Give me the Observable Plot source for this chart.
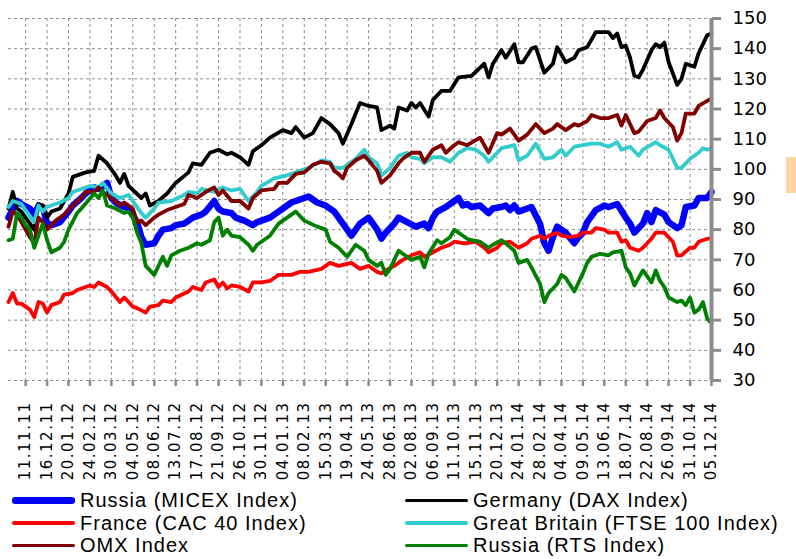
<!DOCTYPE html>
<html><head><meta charset="utf-8">
<script src="https://cdn.jsdelivr.net/npm/d3@7"></script>
<script src="https://cdn.jsdelivr.net/npm/@observablehq/plot@0.6"></script>
<style>
body{margin:0;background:#fff;}
#wrap{position:relative;width:796px;height:559px;overflow:hidden;background:#fff;}
#legend{position:absolute;left:0;top:490px;width:796px;height:69px;font-family:"Liberation Sans",Arial,sans-serif;font-size:20px;letter-spacing:1px;color:#000;}
.item{position:absolute;display:flex;align-items:center;height:21px;line-height:21px;white-space:nowrap;}
.sw{width:63px;margin-right:5px;border-radius:3px;}
#tab{position:absolute;left:786px;top:157px;width:10px;height:36px;background:#FCD5A5;}
g[aria-label="x-axis tick"]{stroke:#8c8c8c;stroke-width:2.5px;}
g[aria-label="y-axis tick"]{stroke:#8c8c8c;stroke-width:3px;}
g[aria-label="x-axis tick label"] text{letter-spacing:1.5px;}
</style></head><body>
<div id="wrap"><div id="chart"></div><div id="legend"></div><div id="tab"></div></div>
<script>
// ---- data ----
const firstWeek = "14.10.11";           // first weekly observation (Friday)
const xTickLabels = ["11.11.11","16.12.11","20.01.12","24.02.12","30.03.12","04.05.12","08.06.12","13.07.12","17.08.12","21.09.12","26.10.12","30.11.12","04.01.13","08.02.13","15.03.13","19.04.13","24.05.13","28.06.13","02.08.13","06.09.13","11.10.13","15.11.13","20.12.13","24.01.14","28.02.14","04.04.14","09.05.14","13.06.14","18.07.14","22.08.14","26.09.14","31.10.14","05.12.14"];
const yTicks = [30,40,50,60,70,80,90,100,110,120,130,140,150];
const seriesNames = ["Russia (MICEX Index)","Germany (DAX Index)","France (CAC 40 Index)","Great Britain (FTSE 100 Index)","OMX Index","Russia (RTS Index)"];
const seriesColors = ["#0000FF","#000000","#FF0000","#33CCCC","#800000","#008000"];

// [week number since firstWeek, index value]
const micex = [[0,84],[2,89.5],[3,88.5],[5,87],[6,85],[7,88],[8,87.5],[9,82],[10,81.5],[12,82.5],[14,86],[15,88],[17,90.5],[18,92],[20,94],[21,93.5],[23,95.5],[24,90.5],[25,89],[27,87.5],[28,87],[30,82.5],[31,77.5],[32,75],[34,75.5],[35,78],[36,80],[38,80.5],[39,81.5],[41,82],[42,83],[43,84],[45,85],[46,86],[48,89.5],[49,87],[50,86],[52,85.5],[53,84],[55,83],[57,81.5],[58,82.5],[61,84],[63,86],[66,89],[68,90],[70,91],[72,89],[74,88],[76,86],[79,80],[80,78],[82,82],[84,84],[86,80],[87,77],[88,79],[90,82],[91,84],[93,82.5],[95,81],[97,82],[98,80.5],[99,84],[100,86],[102,87.5],[104,89.5],[105,90.5],[106,88],[107,88.5],[108,87.5],[110,88],[112,85.5],[113,87],[115,87.5],[116,88],[117,86.5],[118,88],[119,86],[121,87],[122,87.5],[124,82],[125,75.5],[126,73],[127,77.5],[128,81],[130,79],[132,75.5],[133,77.5],[134,79],[135,82.5],[137,86.5],[139,88],[140,87.5],[142,88.5],[144,84],[145,82],[146,79],[148,82],[149,85.5],[150,82.5],[151,86.5],[153,85],[154,82.5],[156,80.5],[157,81.5],[158,87.5],[160,88],[161,90.5],[163,90.5],[164,92.5]];
const dax = [[0,87],[1,92.5],[2,87],[3,86],[5,82],[6,80],[7,88.5],[8,88],[9,84],[10,86],[12,87],[14,92],[15,97.5],[17,98.5],[18,99],[20,99.5],[21,104.5],[23,102],[25,98],[26,95.5],[27,98.5],[28,94.5],[31,90.5],[32,92],[33,88],[35,89.5],[37,92],[39,95.5],[42,99],[43,102],[45,101.5],[47,105.5],[49,106.5],[51,105],[52,105.5],[54,104],[56,101.5],[57,106],[59,108],[61,110.5],[64,113],[66,112],[67,114],[69,110.5],[71,112],[73,117],[75,115],[77,112],[78,108.5],[80,115],[82,122],[84,121],[86,120.5],[87,113],[89,114.5],[90,113.5],[91,120.5],[93,119.5],[94,122],[95,120.5],[96,122],[98,117.5],[99,123],[101,126],[103,126],[105,130.5],[108,131],[111,135],[112,130.5],[113,135],[115,139.5],[116,137],[118,141.5],[119,135.5],[120,135.5],[122,140],[123,140.5],[125,132],[127,135],[128,140.5],[130,135.5],[132,137],[133,139.5],[135,140.5],[137,145.5],[140,145.5],[141,143.5],[142,145],[143,140.5],[144,141],[145,137],[146,131],[147,130.5],[148,133],[150,139.5],[151,141.5],[152,140.5],[153,142],[154,135.5],[156,128],[157,130],[158,135],[160,134],[161,138.5],[163,144.5],[164,145]];
const cac = [[0,56],[1,59],[2,55.5],[3,55.5],[5,53.5],[6,51],[7,56],[8,55.5],[9,52.5],[10,55],[12,56],[13,58.5],[15,59],[16,60],[17,60.5],[19,61.5],[20,61],[21,62.5],[23,61],[24,59.5],[26,56],[27,57.5],[28,56],[29,54.5],[30,54],[32,52.5],[33,54.5],[35,55],[36,56.5],[38,56],[39,57.5],[42,59.5],[43,61],[45,60],[46,62.5],[48,63.5],[49,61],[50,62.5],[51,60.5],[52,61.5],[54,61],[56,59.5],[57,62.5],[59,62.5],[61,63],[63,65],[66,65],[68,66],[70,66],[73,67],[75,69],[77,68],[80,69],[82,67],[84,68],[86,66],[87,65.5],[88,66.5],[90,68],[92,70],[94,71.5],[96,72.5],[97,71],[99,72.5],[101,74],[103,75],[104,76],[106,75.5],[107,75.5],[109,76],[111,74],[112,72.5],[114,74],[115,75.5],[117,76],[118,75],[119,74],[121,75.5],[122,77],[124,78],[125,77],[126,78],[128,79],[129,78],[131,77.5],[133,78],[134,79],[136,79],[137,80.5],[139,80],[140,79],[142,79],[143,76],[144,76.5],[145,74],[147,73],[148,74],[150,77],[151,79],[153,79],[154,77.5],[155,76],[156,71.5],[157,71.5],[159,74],[160,74],[161,76],[163,77],[164,77]];
const ftse = [[0,87.5],[1,89.5],[3,88.5],[4,86.5],[6,82.5],[7,88],[8,86],[9,87.5],[12,89],[14,90.5],[15,92.5],[17,93.5],[19,94.5],[21,94],[22,95.5],[24,92],[26,90.5],[28,91.5],[30,87.5],[31,85.5],[32,84],[34,87],[35,89],[38,89.5],[41,91.5],[42,92.5],[44,92],[45,93.5],[48,92.5],[50,94],[52,93],[54,93.5],[56,89.5],[58,92.5],[59,94.5],[62,97],[65,98],[68,99.5],[70,100.5],[72,102],[73,103],[75,102.5],[76,100.5],[78,100.5],[79,101.5],[81,103.5],[83,106.5],[84,104],[86,102],[87,98],[89,100.5],[91,104.5],[93,105.5],[94,104],[96,103.5],[97,102],[99,104],[101,104],[103,102.5],[105,105.5],[107,107],[109,106.5],[111,104.5],[112,102.5],[114,105.5],[115,107],[118,108],[119,103],[121,104.5],[123,108.5],[125,103.5],[127,104],[129,106.5],[130,104.5],[132,107.5],[134,108],[136,108.5],[138,108.5],[140,107.5],[142,109],[143,106.5],[145,107.5],[147,104.5],[148,106.5],[151,109],[152,108],[154,106.5],[156,100.5],[157,100.5],[159,103.5],[161,105.5],[162,107],[163,106.5],[164,107]];
const omx = [[0,81],[1,86],[2,85],[3,82.5],[5,77.5],[6,75.5],[7,84],[8,82.5],[9,80],[11,83],[13,85],[15,88],[17,90.5],[18,92.5],[20,92.5],[21,94],[22,92.5],[24,90.5],[26,88],[27,89],[29,87],[30,82.5],[31,83],[32,81.5],[34,84],[35,85],[37,86.5],[38,87],[41,88.5],[42,91.5],[44,90.5],[46,92.5],[48,94],[49,91.5],[50,93],[52,89.5],[54,89.5],[56,87],[57,90.5],[59,93],[62,93.5],[63,95.5],[65,95.5],[67,98.5],[69,99],[71,101.5],[73,102.5],[75,102],[76,99.5],[77,98.5],[78,97],[79,100.5],[81,103],[83,104.5],[84,103],[86,99.5],[87,95.5],[89,98],[91,102],[92,103.5],[94,105.5],[96,105.5],[97,102.5],[99,106.5],[101,108],[102,105.5],[104,108],[105,109],[107,108],[110,110.5],[112,105.5],[114,112],[115,111.5],[117,113.5],[119,109.5],[121,111.5],[123,115],[125,112],[127,113.5],[128,115],[130,113],[132,115],[133,114.5],[135,116],[136,118],[138,117],[140,117],[142,118],[143,114.5],[144,118],[146,112],[147,112.5],[149,116],[151,117],[152,119.5],[153,117],[155,114],[156,109.5],[157,112],[158,118.5],[160,118.5],[161,121],[164,123.5]];
const rts = [[0,76.5],[1,77],[2,85.5],[3,84],[4,81.5],[5,80],[6,74],[7,78],[8,82],[9,76.5],[10,72.5],[12,74],[13,76],[14,80],[16,85.5],[17,87],[20,92],[21,90.5],[22,93],[23,88],[25,87],[27,85.5],[28,86],[29,84],[30,79],[31,75.5],[32,68],[34,65],[35,68],[36,71],[37,68],[38,71.5],[40,73],[42,74],[44,75.5],[45,75],[47,76.5],[48,82.5],[49,84],[50,78],[51,80],[52,78],[54,77.5],[56,75],[57,73],[58,75],[61,78],[63,82],[66,85],[67,86],[69,83],[72,81],[74,80],[75,76],[77,74],[79,71],[81,75],[83,73],[84,70],[86,68],[87,69],[88,65],[89,67],[90,70],[91,73],[93,71],[94,70],[96,71],[97,67.5],[98,72],[100,76.5],[101,75.5],[103,77.5],[104,80],[106,78],[107,77],[108,76.5],[110,76],[112,74],[113,75],[115,76.5],[116,75.5],[118,73],[119,69],[121,70],[122,67.5],[124,62],[125,56],[126,59],[128,62],[129,65],[130,64],[132,59.5],[133,62.5],[134,65.5],[135,69],[136,71],[138,72],[140,71.5],[141,72.5],[143,73],[144,67.5],[145,65.5],[146,61.5],[147,64],[148,66.5],[150,62.5],[151,66.5],[152,63],[153,61],[154,57.5],[156,56],[157,56.5],[158,55],[159,57.5],[160,52.5],[161,53.5],[162,56],[163,50.5],[164,49]];

const seriesData = [micex, dax, cac, ftse, omx, rts];
const seriesWidths = [6.5, 3.8, 3.8, 3.8, 3.8, 3.8];

// ---- chart ----
const parse = d3.utcParse("%d.%m.%y");
const fmt = d3.utcFormat("%d.%m.%y");
const start = parse(firstWeek);
const toDate = w => d3.utcDay.offset(start, 7 * w);
const xTicks = xTickLabels.map(parse);
const end = xTicks[xTicks.length - 1];

const lineMarks = seriesData.map((pts, i) =>
  Plot.line(pts, {x: d => toDate(d[0]), y: d => d[1], stroke: seriesColors[i], strokeWidth: seriesWidths[i], strokeLinejoin: "round", strokeLinecap: "round"}));

const chart = Plot.plot({
  width: 796, height: 488,
  marginLeft: 8, marginRight: 85, marginTop: 18, marginBottom: 108,
  style: {fontFamily: "DejaVu Sans", background: "#fff", color: "#000"},
  x: {type: "utc", domain: [start, end]},
  y: {domain: [30, 150]},
  marks: [
    Plot.ruleY(yTicks, {stroke: "#8c8c8c", strokeWidth: 1, strokeDasharray: "3,3"}),
    Plot.ruleX(xTicks, {stroke: "#8c8c8c", strokeWidth: 1, strokeDasharray: "3,3"}),
    ...lineMarks,
    Plot.ruleX([end], {stroke: "#8c8c8c", strokeWidth: 4}),
    Plot.axisX(xTicks, {tickFormat: fmt, tickRotate: -90, tickSize: 6, tickPadding: 15, fontSize: 15}),
    Plot.axisY(yTicks, {anchor: "right", tickSize: 9, tickPadding: 12, fontSize: 18})
  ]
});
document.getElementById("chart").appendChild(chart);

// ---- legend (Excel order: row by row, two columns) ----
const legend = document.getElementById("legend");
const colX = [12, 405];
seriesNames.forEach((name, i) => {
  const item = document.createElement("div");
  item.className = "item";
  item.style.left = colX[i % 2] + "px";
  item.style.top = (Math.floor(i / 2) * 22.5) + "px";
  const sw = document.createElement("div");
  sw.className = "sw";
  sw.style.height = seriesWidths[i] + "px";
  sw.style.background = seriesColors[i];
  const t = document.createElement("span");
  t.textContent = name;
  item.appendChild(sw); item.appendChild(t);
  legend.appendChild(item);
});
</script></body></html>
